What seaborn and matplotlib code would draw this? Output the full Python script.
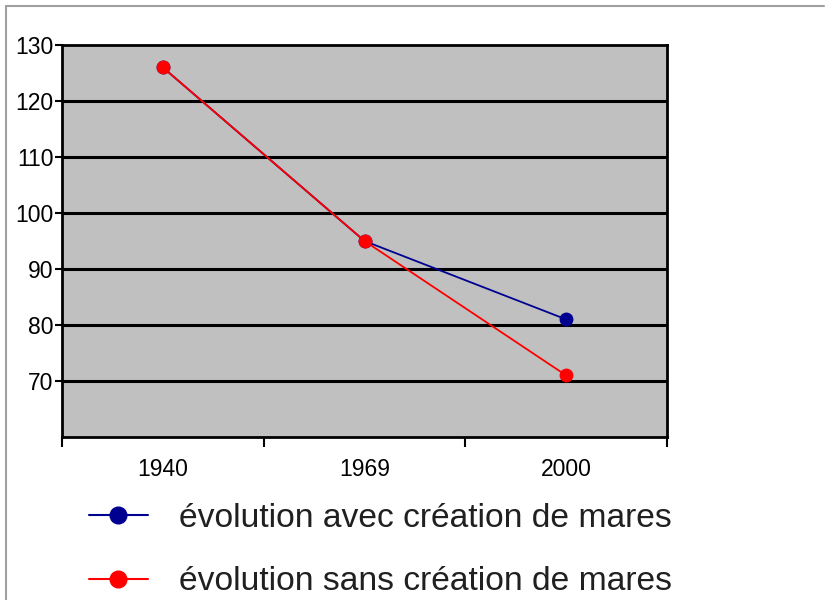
import matplotlib
matplotlib.use("Agg")
import matplotlib.pyplot as plt
from matplotlib.lines import Line2D
import seaborn as sns
import pandas as pd

years = ["1940", "1969", "2000"]
avec_mares = [126, 95, 81]
sans_mares = [126, 95, 71]
series_names = ["évolution avec création de mares", "évolution sans création de mares"]
series_colors = ["#000090", "#ff0000"]
y_ticks = [70, 80, 90, 100, 110, 120, 130]

df = pd.DataFrame({
    "année": years * 2,
    "valeur": avec_mares + sans_mares,
    "série": [series_names[0]] * 3 + [series_names[1]] * 3,
})

sns.set_style("white")
plt.rcParams["font.family"] = ["Liberation Sans", "DejaVu Sans"]

fig = plt.figure(figsize=(8.25, 6), dpi=100)
ax = fig.add_axes([62 / 825, 1 - 437 / 600, (667 - 62) / 825, (437 - 45) / 600])
ax.set_facecolor("#c0c0c0")

sns.pointplot(data=df, x="année", y="valeur", hue="série", hue_order=series_names,
              palette=dict(zip(series_names, series_colors)), markers="o",
              linestyles="-", markersize=9, linewidth=1.3, ax=ax, legend=False,
              errorbar=None)

ax.set_xlim(-0.5, 2.5)
ax.set_ylim(60, 130)
ax.set_yticks(y_ticks)
ax.set_yticklabels([str(v) for v in y_ticks])
ax.set_xticks(range(len(years)))
ax.set_xticklabels(years)
ax.set_xticks([-0.5, 0.5, 1.5, 2.5], minor=True)
ax.tick_params(axis="both", which="both", bottom=True, left=True, labelsize=16.5, labelcolor="black")
ax.tick_params(axis="x", which="major", length=0, pad=15)
ax.tick_params(axis="x", which="minor", length=7, width=1.5, color="black", direction="out")
ax.tick_params(axis="y", which="major", length=5, width=1.5, color="black", direction="out", pad=1)
ax.set_xlabel("")
ax.set_ylabel("")

for v in y_ticks[:-1]:
    ax.axhline(v, color="black", lw=2.2, zorder=0.5)

for s in ax.spines.values():
    s.set_visible(True)
    s.set_color("black")
    s.set_linewidth(2)

handles = [Line2D([0], [0], color=c, lw=1.5, marker="o", markersize=12,
                  markerfacecolor=c, markeredgecolor=c) for c in series_colors]
fig.legend(handles, series_names, loc="upper left", bbox_to_anchor=(72 / 825, 1 - 486 / 600),
           frameon=False, fontsize=24.2, handlelength=1.75, handletextpad=0.92,
           labelspacing=0.97, borderpad=0, labelcolor="#202020")

fig.add_artist(Line2D([6 / 825, 6 / 825], [0, 1 - 6 / 600], transform=fig.transFigure,
                      color="#a0a0a0", lw=1.5))
fig.add_artist(Line2D([6 / 825, 824 / 825], [1 - 6 / 600, 1 - 6 / 600], transform=fig.transFigure,
                      color="#a0a0a0", lw=1.5))

fig.savefig("out.png", dpi=100)
